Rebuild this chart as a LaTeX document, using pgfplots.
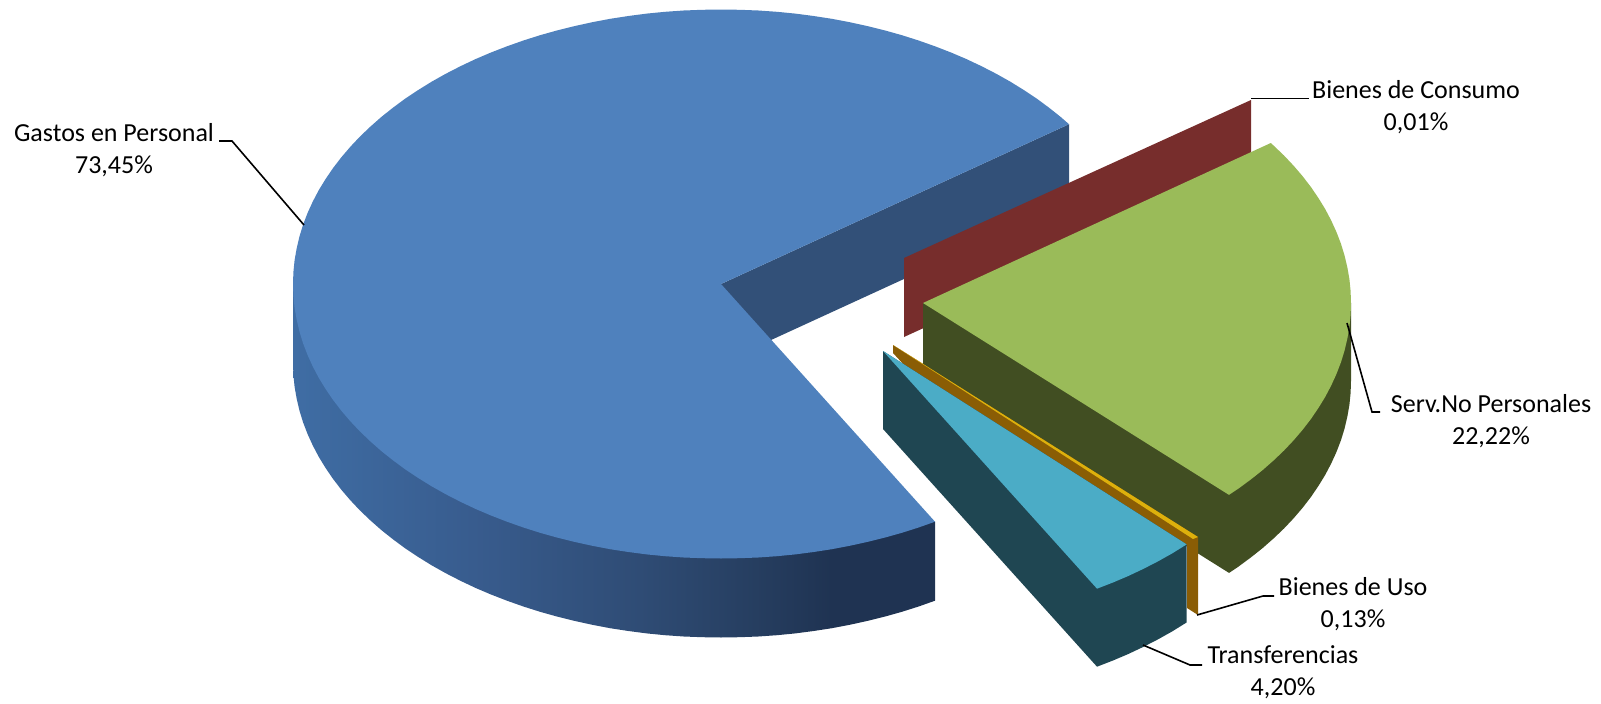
\documentclass[border=0pt]{standalone}
\usepackage{fontspec}
\setmainfont{Carlito}
\usepackage{pgfplots}
\pgfplotsset{compat=1.18}

% Surface colours of the seven visible faces
\definecolor{persTop}{HTML}{4F81BD}
\definecolor{persInner}{HTML}{325078}
\definecolor{consFace}{HTML}{772D2C}
\definecolor{servTop}{HTML}{9ABB59}
\definecolor{servSide}{HTML}{414E22}
\definecolor{usoFace}{HTML}{8A5D05}
\definecolor{usoTop}{HTML}{DDB00C}
\definecolor{transTop}{HTML}{4BACC6}
\definecolor{transSide}{HTML}{1F4652}
\definecolor{leader}{HTML}{000000}
\definecolor{persRimA}{HTML}{3F6DA4}
\definecolor{persRimB}{HTML}{385C8E}
\definecolor{persRimC}{HTML}{2F4C75}
\definecolor{persRimD}{HTML}{263E60}
\definecolor{persRimE}{HTML}{1F3352}

% Rim of the large slice, lit from the left
\pgfdeclarehorizontalshading{persRim}{100bp}{
  color(0bp)=(persRimA);
  color(25bp)=(persRimA);
  color(39bp)=(persRimB);
  color(52bp)=(persRimC);
  color(61bp)=(persRimD);
  color(67bp)=(persRimE);
  color(100bp)=(persRimE)}

\begin{document}
\begin{tikzpicture}
\begin{axis}[
  width=1601pt, height=704pt, scale only axis,
  xmin=0, xmax=1601, ymin=0, ymax=704,
  y dir=reverse, hide axis, clip=false,
  nodes={font=\fontsize{26}{32}\selectfont, align=center, inner sep=0pt},
]
% Invisible frame that fixes the extent of the drawing
\addplot[draw=none] coordinates {(0,0) (1601,0) (1601,704) (0,704)} -- cycle;
% Gastos en Personal: outer rim
\addplot[draw=none, shading=persRim] coordinates {
  (293,284) (293,363) (293.4,375) (294.6,386.9) (296.7,398.8) (299.5,410.7)
  (303.1,422.4) (307.6,434.1) (312.8,445.5) (318.8,456.9) (325.6,468)
  (333.1,479) (341.4,489.8) (350.4,500.3) (360,510.5) (370.4,520.4)
  (381.4,530.1) (393.1,539.4) (405.4,548.5) (418.4,557.1) (431.8,565.4)
  (445.9,573.3) (460.5,580.8) (475.5,587.9) (491,594.5) (507,600.7)
  (523.4,606.5) (540.1,611.8) (557.2,616.6) (574.6,620.9) (592.3,624.8)
  (610.2,628.2) (628.4,631) (646.7,633.4) (665.1,635.2) (683.7,636.5)
  (702.3,637.2) (721,637.5) (739.7,637.2) (758.3,636.5) (776.9,635.2)
  (795.3,633.4) (813.6,631) (831.8,628.2) (849.7,624.8) (867.4,620.9)
  (884.8,616.6) (901.9,611.8) (918.6,606.5) (935,600.7) (935,521.7)} -- cycle;
% Gastos en Personal: cut face
\addplot[draw=none, fill=persInner] coordinates {
  (721,284) (1069,124.2) (1069,203.2) (721,363)} -- cycle;
% Gastos en Personal: top
\addplot[draw=none, fill=persTop] coordinates {
  (721,284) (1069,124.2) (1060.6,116.9) (1048.9,107.6) (1036.6,98.5)
  (1023.6,89.9) (1010.2,81.6) (996.1,73.7) (981.5,66.2) (966.5,59.1) (951,52.5)
  (935,46.3) (918.6,40.5) (901.9,35.2) (884.8,30.4) (867.4,26.1) (849.7,22.2)
  (831.8,18.8) (813.6,16) (795.3,13.6) (776.9,11.8) (758.3,10.5) (739.7,9.8)
  (721,9.5) (702.3,9.8) (683.7,10.5) (665.1,11.8) (646.7,13.6) (628.4,16)
  (610.2,18.8) (592.3,22.2) (574.6,26.1) (557.2,30.4) (540.1,35.2) (523.4,40.5)
  (507,46.3) (491,52.5) (475.5,59.1) (460.5,66.2) (445.9,73.7) (431.8,81.6)
  (418.4,89.9) (405.4,98.5) (393.1,107.6) (381.4,116.9) (370.4,126.6)
  (360,136.5) (350.4,146.7) (341.4,157.2) (333.1,168) (325.6,179) (318.8,190.1)
  (312.8,201.5) (307.6,212.9) (303.1,224.6) (299.5,236.3) (296.7,248.2)
  (294.6,260.1) (293.4,272) (293,284) (293.4,296) (294.6,307.9) (296.7,319.8)
  (299.5,331.7) (303.1,343.4) (307.6,355.1) (312.8,366.5) (318.8,377.9)
  (325.6,389) (333.1,400) (341.4,410.8) (350.4,421.3) (360,431.5) (370.4,441.4)
  (381.4,451.1) (393.1,460.4) (405.4,469.5) (418.4,478.1) (431.8,486.4)
  (445.9,494.3) (460.5,501.8) (475.5,508.9) (491,515.5) (507,521.7)
  (523.4,527.5) (540.1,532.8) (557.2,537.6) (574.6,541.9) (592.3,545.8)
  (610.2,549.2) (628.4,552) (646.7,554.4) (665.1,556.2) (683.7,557.5)
  (702.3,558.2) (721,558.5) (739.7,558.2) (758.3,557.5) (776.9,556.2)
  (795.3,554.4) (813.6,552) (831.8,549.2) (849.7,545.8) (867.4,541.9)
  (884.8,537.6) (901.9,532.8) (918.6,527.5) (935,521.7)} -- cycle;
% Bienes de Consumo: a sliver seen only by its cut face
\addplot[draw=none, fill=consFace] coordinates {
  (904,258) (1251,100) (1251,178) (904,337)} -- cycle;
% Serv.No Personales: rim and cut face
\addplot[draw=none, fill=servSide] coordinates {
  (923,303) (923,381) (1229,572.9) (1238.6,566.5) (1250.9,557.4) (1262.6,548.1)
  (1273.6,538.4) (1284,528.5) (1293.6,518.3) (1302.6,507.8) (1310.9,497)
  (1318.4,486) (1325.2,474.9) (1331.2,463.5) (1336.4,452.1) (1340.9,440.4)
  (1344.5,428.7) (1347.3,416.8) (1349.4,404.9) (1350.6,393) (1351,381)
  (1351,303)} -- cycle;
% Serv.No Personales: top
\addplot[draw=none, fill=servTop] coordinates {
  (923,303) (1270.8,143) (1273.6,145.6) (1284,155.5) (1293.6,165.7)
  (1302.6,176.2) (1310.9,187) (1318.4,198) (1325.2,209.1) (1331.2,220.5)
  (1336.4,231.9) (1340.9,243.6) (1344.5,255.3) (1347.3,267.2) (1349.4,279.1)
  (1350.6,291) (1351,303) (1350.6,315) (1349.4,326.9) (1347.3,338.8)
  (1344.5,350.7) (1340.9,362.4) (1336.4,374.1) (1331.2,385.5) (1325.2,396.9)
  (1318.4,408) (1310.9,419) (1302.6,429.8) (1293.6,440.3) (1284,450.5)
  (1273.6,460.4) (1262.6,470.1) (1250.9,479.4) (1238.6,488.5) (1229,494.9)} -- cycle;
% Bienes de Uso
\addplot[draw=none, fill=usoFace] coordinates {
  (893,345) (1198,537) (1198,615) (1187,608) (1187,546) (905,366) (893,353)} -- cycle;
\addplot[draw=none, fill=usoTop] coordinates {
  (893,345) (1198,537) (1193,539)} -- cycle;
% Transferencias: rim and cut face
\addplot[draw=none, fill=transSide] coordinates {
  (883,351) (883,429) (1097,666.7) (1113,660.5) (1128.5,653.9) (1143.5,646.8)
  (1158.1,639.3) (1172.2,631.4) (1186.7,622.4) (1186.7,544.4)} -- cycle;
% Transferencias: top
\addplot[draw=none, fill=transTop] coordinates {
  (883,351) (1186.7,544.4) (1172.2,553.4) (1158.1,561.3) (1143.5,568.8)
  (1128.5,575.9) (1113,582.5) (1097,588.7)} -- cycle;

% Leader lines
\addplot[leader, line width=1.6pt] coordinates {(219,141) (232,141) (304,225)};
\addplot[leader, line width=1.6pt] coordinates {(1251,98.5) (1309,98.5)};
\addplot[leader, line width=1.6pt] coordinates {(1347,323) (1372,412) (1380,412)};
\addplot[leader, line width=1.6pt] coordinates {(1197,615) (1263,596) (1274,596)};
\addplot[leader, line width=1.6pt] coordinates {(1143,645) (1190,665) (1202,665)};

% Category names and shares
\node at (axis cs:114,150.5) {Gastos en Personal\\73,45\%};
\node at (axis cs:1416,107) {Bienes de Consumo\\0,01\%};
\node at (axis cs:1491,421) {Serv.No Personales\\22,22\%};
\node at (axis cs:1353,604) {Bienes de Uso\\0,13\%};
\node at (axis cs:1283,672) {Transferencias\\4,20\%};
\end{axis}
\end{tikzpicture}
\end{document}
